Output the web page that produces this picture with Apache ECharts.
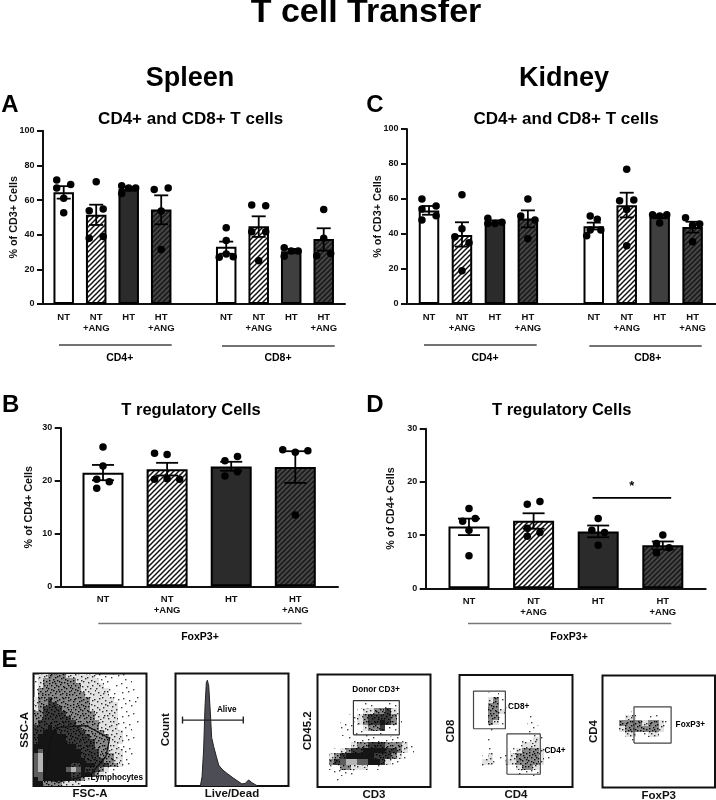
<!DOCTYPE html>
<html><head><meta charset="utf-8">
<style>html,body{margin:0;padding:0;background:#fff}#c{width:716px;height:800px;filter:blur(0.35px)}</style>
<script src="https://cdn.jsdelivr.net/npm/echarts@6/dist/echarts.min.js"></script>
</head><body><div id="c"></div>
<script>
// ---------- bar panels: data ----------
const xLabels4 = ['NT','NT\n+ANG','HT','HT\n+ANG'];
const xLabels8 = ['NT','NT\n+ANG','HT','HT\n+ANG','NT','NT\n+ANG','HT','HT\n+ANG'];
const xPos8 = [0,1,2,3,5,6,7,8];
const xPos4 = [0,1,2,3];

const aMeans = [64.5,51.5,66.5,54.5,33,44.8,30.5,37.5];
const aUp    = [68,57.3,67.6,62.7,36,50.6,31.8,43.7];
const aDown  = [60.8,45.6,65.4,46,29,38.7,29.3,30.8];
const aVals  = [[71.5,67,69,61,52.7],[70.6,53.8,54.8,37.9,39],[68.3,67,67,63.8],[66,67,53.7,31.5],[44,36.7,27,28.8,27.3],[57.1,56.7,41.7,41.7,25],[32.5,30.6,30.6,27.5],[54.6,38,27.9,29.2]];
const aSlots = [[-1,-1,1,0,0],[0,-1,1,-1,1],[-1,0,1,-1],[-1,1,0,0],[0,0,-1,0,1],[-1,1,-1,1,0],[-1,0,1,-1],[0,0,-1,1]];

const cMeans = [53.5,39.5,47,48.8,44.5,56.5,50,44];
const cUp    = [56,46.7,47.8,53.5,46.5,63.6,51,47];
const cDown  = [51,32.8,46.2,43.8,42.6,49.5,49,40.8];
const cVals  = [[60,54.3,56,48,50.5],[62.5,38.5,43,35,19],[49,46,46.7,46],[60,50.3,48,37.3],[50.3,48.4,39,42.3,42.3],[77,59,59.4,54,33.3],[51,50.3,51,46.3],[49.3,45,45.7,35.6]];
const cSlots = [[-1,-1,1,-1,1],[0,-1,0,1,0],[-1,0,1,-1],[0,-1,1,0],[-.5,.5,-1,-.5,1],[0,-1,1,0,0],[-1,0,1,0],[-1,0,1,0]];

const bMeans = [21.5,22.2,22.7,22.6];
const bUp    = [23,23.4,23.6,25.6];
const bDown  = [20.1,21,21.9,19.6];
const bVals  = [[26.4,22.8,20.3,19.8,18.6],[25.2,25,20.3,20.4,20.3],[23.8,24.6,20.9,21.7],[25.9,25.4,25.7,13.5]];
const bSlots = [[0,0,-1,1,-1],[-2,0,-2,0,2],[-1,1,-1,1],[-2,0,2,0]];

const dMeans = [11.6,12.7,10.7,8.1];
const dUp    = [13.1,14.1,11.8,8.8];
const dDown  = [10,11.2,9.6,7.3];
const dVals  = [[15,12.6,13.1,10.9,6.1],[15.8,16.3,11.3,10.5,9.8],[13.1,10.9,10.5,8.1],[10,8.4,7.6,6.7]];
const dSlots = [[0,-1,1,0,0],[-1,1,-1,1,-1],[0,-1,1,0],[0,-1,1,-1]];
const dSigLine = [[1.913,17],[3.13,17]];

// ---------- flow panels: densities read by eye (0 none, 1-3 speckle, 7 dark, 4 black, 5/6 grey core) ----------
const sscDensity = [
 "122333322222211111110000","123333333222221111111000","123333333322222111111000","133333333322222211111100",
 "133333333332222211111100","233733333333222221111110","233773333333222222111110","237777333333222222111100",
 "337777733333322222111110","337777773333322222111100","377777777333332222111110","777477777733332222111000",
 "774447777773333222211100","744444477777333322211100","744444477777733322211000","444444444777733322111100",
 "454444444477773322211000","564444444477773332211100","564444444447777332211000","564444447744477733211000",
 "564444456547773211000000","554444447744732100000000","454444447732100000000000","443333222200000000000000"];
const lymphGate = [[9.7,6.8],[14.7,40.8],[20.5,52],[47,53.6],[67.4,42.3],[64,26],[50,9.8],[22,3.3],[9.7,6.8]];

const liveDeadHist = [[22,0],[23.5,8.3],[24.9,32],[26.1,70],[27.3,92],[28.2,94],[29.4,89],[30.9,64],[32,43],[33.8,35],[36.2,26],[38.2,18.6],[41.2,14.8],[45.6,11.2],[51.5,6.8],[58.8,1.8],[61.8,2.4],[64.7,5.4],[67.6,3],[72.6,0]];
const aliveGate = [[6.2,58.6],[60,58.6]];

const cd3Density = [
 "00000000000000000000","00000000000000000000","00000000000000000000","00000000000000000000",
 "00000000000000000000","00000000111111000000","00000001223372100000","00000112377773100000",
 "00001112377473100000","00001111233711000000","00001111111100000000","00000111111111110000",
 "00000123377733321000","00012377444477321000","00237444447773210000","00375665544721100000",
 "00113322211000000000","00011110000000000000","00010000000000000000","00000000000000000000"];
const donorGate = [[31.8,46.4],[72.4,46.4],[72.4,76.8],[31.8,76.8],[31.8,46.4]];

const cd4Density = [
 "00000000000000000000","00000000000000000000","00000000000000000000","00000110000000000000",
 "00000231000000000000","00000331100000000000","00000332000000000000","00000331000010000000",
 "00000321000010000000","00000100000011000000","00000100000011000000","00000100000112100000",
 "00000100001222100000","00000100012333210000","00001211123333210000","00012211223333210000",
 "00001100012332100000","00000000001111000000","00000000000000000000","00000000000000000000"];
const cd8Gate = [[12.4,52],[40.6,52],[40.6,85.6],[12.4,85.6],[12.4,52]];
const cd4Gate = [[42,11.4],[71.5,11.4],[71.5,47.4],[42,47.4],[42,11.4]];

const foxDensity = [
 "00000000000000000000","00000000000000000000","00000000000000000000","00000000000000000000",
 "00000000000000000000","00000000000000000000","00000100000000000000","00002210110000000000",
 "00033332332100000000","00023333332100000000","00002211221000000000","00000100000000000000",
 "00000000000000000000","00000000000000000000","00000000000000000000","00000000000000000000",
 "00000000000000000000","00000000000000000000","00000000000000000000","00000000000000000000"];
const foxGate = [[28,39.7],[61,39.7],[61,72],[28,72],[28,39.7]];

// ---------- styling helpers ----------
const FONT = '"Liberation Sans", Arial, sans-serif';
function hatch(bg, fg, lw){
  const n=5, k=document.createElement('canvas'); k.width=k.height=n;
  const g=k.getContext('2d'); g.fillStyle=bg; g.fillRect(0,0,n,n);
  g.strokeStyle=fg; g.lineWidth=lw;
  [[-1,n+1,n+1,-1],[-n-1,n+1,1,-1],[n-1,n+1,2*n+1,-1]].forEach(s=>{g.beginPath();g.moveTo(s[0],s[1]);g.lineTo(s[2],s[3]);g.stroke();});
  return {image:k,repeat:'repeat'};
}
const fills = {
  nt:'#ffffff', ntAng:hatch('#ffffff','#111111',1.5),
  ht:'#2b2b2b', ht2:'#3f3f3f', htAng:hatch('#4a4a4a','#1c1c1c',1.7)
};
const fills4=[fills.nt,fills.ntAng,fills.ht,fills.htAng];
const fills8=[fills.nt,fills.ntAng,fills.ht,fills.htAng,fills.nt,fills.ntAng,fills.ht2,fills.htAng];

// speckle texture for the flow densities
const tileDots=[[3,2],[15,5],[8,19],[20,13],[1,11],[11,9],[18,21],[6,15],[22,3],[13,17],
 [5,7],[17,1],[9,4],[2,20],[23,18],[12,22],[19,8],[7,11],[15,14],[1,5],
 [10,14],[21,22],[4,23],[14,1],[16,10],[6,1],[22,9],[0,16],[11,19],[18,16],
 [3,13],[9,8],[13,6],[20,4],[7,21],[16,19],[1,8],[12,12],[5,18],[23,13],
 [8,1],[17,7],[2,3],[14,21],[19,11],[10,17],[21,19],[6,9],[15,2],[0,22],
 [4,10],[18,23],[11,3],[22,15],[8,13],[13,10],[3,17],[16,15],[20,1],[7,5]];
function tile(bg,count,alpha){
  const k=document.createElement('canvas'); k.width=k.height=24;
  const g=k.getContext('2d'); if(bg){g.fillStyle=bg;g.fillRect(0,0,24,24);}
  g.fillStyle='rgba(0,0,0,'+alpha+')';
  tileDots.slice(0,count).forEach(d=>g.fillRect(d[0],d[1],1.4,1.4));
  return {image:k,repeat:'repeat'};
}
const levels=[null,tile(null,14,.75),tile('#e2e2e2',36,.8),tile('#8a8a8a',60,.95),'#151515','#5e5e5e','#b5b5b5',tile('#3c3c3c',60,1)];

function densityCells(rows){
  const out=[]; rows.forEach((r,ri)=>[...r].forEach((c,ci)=>{ if(c!=='0') out.push([ci,ri,+c]); }));
  return out;
}

const grid=[], xAxis=[], yAxis=[], series=[];

function barPanel(o){
  const gi=grid.length;
  grid.push({left:o.left,top:o.top,width:o.width,height:o.height,outerBoundsMode:'none'});
  xAxis.push({gridIndex:gi,type:'value',min:o.xMin,max:o.xMax,splitLine:{show:false},
    axisLine:{onZero:false,lineStyle:{color:'#111',width:2}},axisTick:{show:false},
    axisLabel:{customValues:o.pos,formatter:v=>o.labels[o.pos.indexOf(v)],color:'#111',fontFamily:FONT,fontWeight:'bold',fontSize:9.5,lineHeight:11,margin:8,align:'center',verticalAlign:'top',hideOverlap:false}});
  yAxis.push({gridIndex:gi,type:'value',min:0,max:o.yMax,interval:o.yStep,splitLine:{show:false},
    axisLine:{show:true,onZero:false,lineStyle:{color:'#111',width:2}},axisTick:{show:true,length:6,lineStyle:{color:'#111',width:2}},
    axisLabel:{color:'#111',fontFamily:FONT,fontWeight:'bold',fontSize:9,margin:8.5},
    name:o.yName,nameLocation:'middle',nameGap:o.nameGap,nameMoveOverlap:false,nameTextStyle:{color:'#111',fontFamily:FONT,fontWeight:'bold',fontSize:10.8}});
  series.push({type:'bar',xAxisIndex:gi,yAxisIndex:gi,barWidth:o.barW,z:2,silent:true,
    data:o.means.map((m,i)=>({value:[o.pos[i],m],itemStyle:{color:o.fills[i],borderColor:'#000',borderWidth:2}}))});
  series.push({type:'custom',xAxisIndex:gi,yAxisIndex:gi,z:3,silent:true,clip:false,
    data:o.means.map((m,i)=>[o.pos[i],o.up[i],o.down[i]]),
    renderItem:(p,api)=>{
      const x=api.value(0), a=api.coord([x,api.value(1)]), b=api.coord([x,api.value(2)]), h=o.cap/2;
      const st={stroke:'#000',lineWidth:1.8};
      return {type:'group',children:[
        {type:'line',shape:{x1:a[0],y1:a[1],x2:b[0],y2:b[1]},style:st},
        {type:'line',shape:{x1:a[0]-h,y1:a[1],x2:a[0]+h,y2:a[1]},style:st},
        {type:'line',shape:{x1:b[0]-h,y1:b[1],x2:b[0]+h,y2:b[1]},style:st}]};
    }});
  const pts=[]; o.vals.forEach((g,i)=>g.forEach((v,j)=>pts.push([o.pos[i]+o.slots[i][j]*o.jitter,v])));
  series.push({type:'scatter',xAxisIndex:gi,yAxisIndex:gi,z:4,silent:true,symbol:'circle',symbolSize:7.5,itemStyle:{color:'#000',opacity:1},data:pts});
  return gi;
}

barPanel({left:43,top:130.7,width:302,height:173.3,xMin:-0.637,xMax:8.655,pos:xPos8,labels:xLabels8,yMax:100,yStep:20,yName:'% of CD3+ Cells',nameGap:23.3,barW:20.5,cap:14,jitter:.215,means:aMeans,up:aUp,down:aDown,vals:aVals,slots:aSlots,fills:fills8});
barPanel({left:407,top:129,width:309,height:175,xMin:-0.668,xMax:8.71,pos:xPos8,labels:xLabels8,yMax:100,yStep:20,yName:'% of CD3+ Cells',nameGap:23,barW:20.5,cap:14,jitter:.215,means:cMeans,up:cUp,down:cDown,vals:cVals,slots:cSlots,fills:fills8});
barPanel({left:60.7,top:428,width:277.3,height:158.3,xMin:-0.66,xMax:3.666,pos:xPos4,labels:xLabels4,yMax:30,yStep:10,yName:'% of CD4+ Cells',nameGap:25.7,barW:41,cap:22,jitter:.098,means:bMeans,up:bUp,down:bDown,vals:bVals,slots:bSlots,fills:fills4});
const gD=barPanel({left:425.7,top:428.7,width:280,height:159.6,xMin:-0.67,xMax:3.664,pos:xPos4,labels:xLabels4,yMax:30,yStep:10,yName:'% of CD4+ Cells',nameGap:28.7,barW:41,cap:22,jitter:.098,means:dMeans,up:dUp,down:dDown,vals:dVals,slots:dSlots,fills:fills4});
series.push({type:'line',xAxisIndex:gD,yAxisIndex:gD,z:5,silent:true,symbol:'none',lineStyle:{color:'#000',width:1.6},data:dSigLine,
  markPoint:{symbol:'circle',symbolSize:0,silent:true,label:{show:true,formatter:'*',color:'#000',fontFamily:FONT,fontWeight:'bold',fontSize:13,offset:[0,0]},data:[{coord:[2.52,19.2]}]}});

function flowPanel(o){
  const gi=grid.length;
  grid.push({left:o.left,top:o.top,width:o.width,height:o.height,show:true,borderColor:'#111',borderWidth:2,backgroundColor:'#fff',outerBoundsMode:'none'});
  xAxis.push({gridIndex:gi,type:'value',min:0,max:100,splitLine:{show:false},axisLine:{show:false},axisTick:{show:false},axisLabel:{show:false},
    name:o.xName,nameLocation:'middle',nameGap:o.xGap,nameMoveOverlap:false,nameTextStyle:{color:'#111',fontFamily:FONT,fontWeight:'bold',fontSize:11.5}});
  yAxis.push({gridIndex:gi,type:'value',min:0,max:100,splitLine:{show:false},axisLine:{show:false},axisTick:{show:false},axisLabel:{show:false},
    name:o.yName,nameLocation:'middle',nameGap:o.yGap,nameMoveOverlap:false,nameTextStyle:{color:'#111',fontFamily:FONT,fontWeight:'bold',fontSize:11.5}});
  if(o.density){
    const n=o.density.length, u=100/n;
    series.push({type:'custom',xAxisIndex:gi,yAxisIndex:gi,z:2,silent:true,data:densityCells(o.density),
      renderItem:(p,api)=>{
        const a=api.coord([api.value(0)*u,100-api.value(1)*u]), b=api.coord([(api.value(0)+1)*u,100-(api.value(1)+1)*u]);
        const x0=Math.round(a[0]), y0=Math.round(a[1]);
        return {type:'rect',shape:{x:x0,y:y0,width:Math.round(b[0])-x0,height:Math.round(b[1])-y0},style:{fill:levels[api.value(2)]}};
      }});
  }
  (o.gates||[]).forEach(g=>series.push({type:'line',xAxisIndex:gi,yAxisIndex:gi,z:3,silent:true,symbol:'none',lineStyle:{color:o.gateColor||'#333',width:o.gateWidth||1.2},data:g}));
  return gi;
}

flowPanel({left:33.5,top:673.5,width:113,height:112.5,xName:'FSC-A',yName:'SSC-A',xGap:2,yGap:3,density:sscDensity,gates:[lymphGate],gateColor:'#111'});
const gH=flowPanel({left:175.5,top:673.5,width:113,height:112.5,xName:'Live/Dead',yName:'Count',xGap:2,yGap:4});
series.push({type:'line',xAxisIndex:gH,yAxisIndex:gH,z:2,silent:true,symbol:'none',lineStyle:{color:'#222',width:1},areaStyle:{color:'#4d4d55',opacity:1},data:liveDeadHist});
series.push({type:'line',xAxisIndex:gH,yAxisIndex:gH,z:3,silent:true,symbol:'rect',symbolSize:[1.4,7],showSymbol:true,showAllSymbol:true,itemStyle:{color:'#222'},lineStyle:{color:'#222',width:1.2},data:aliveGate});
flowPanel({left:317.5,top:674.5,width:113,height:112.5,xName:'CD3',yName:'CD45.2',xGap:2,yGap:4,density:cd3Density,gates:[donorGate]});
flowPanel({left:459.5,top:675,width:113,height:112,xName:'CD4',yName:'CD8',xGap:2,yGap:3,density:cd4Density,gates:[cd8Gate,cd4Gate],gateColor:'#444'});
flowPanel({left:602.5,top:675.5,width:112.5,height:112,xName:'FoxP3',yName:'CD4',xGap:2.5,yGap:3,density:foxDensity,gates:[foxGate],gateColor:'#444'});

// ---------- page text and bracket lines ----------
function txt(s,x,y,size){return {type:'text',x:x,y:y,silent:true,z:50,style:{text:s,fill:'#000',font:'bold '+size+'px '+FONT,align:'center',verticalAlign:'middle'}};}
function rule(x1,x2,y,c){return {type:'line',silent:true,shape:{x1:x1,y1:y,x2:x2,y2:y},style:{stroke:c||'#444',lineWidth:1.3}};}
const graphic=[
  txt('T cell Transfer',366,13,34),
  txt('Spleen',190,79,27), txt('Kidney',564,79,27),
  txt('A',10,105,24), txt('C',375,105,24), txt('B',10.7,405,24), txt('D',375,405,24), txt('E',9.5,660,24),
  txt('CD4+ and CD8+ T cells',190.7,119.5,17), txt('CD4+ and CD8+ T cells',566,119.5,17),
  txt('T regulatory Cells',191,410,16.5), txt('T regulatory Cells',561.7,410,16.5),
  rule(59,171.7,345), rule(222,334.7,346), rule(424,536.7,345), rule(589.3,701.7,346),
  rule(98.3,301.7,623.5,'#777'), rule(468,671.3,623.5,'#777'),
  txt('CD4+',119.7,358,10.5), txt('CD8+',278,358,10.5), txt('CD4+',485,358,10.5), txt('CD8+',647.7,358,10.5),
  txt('FoxP3+',200,637,10.5), txt('FoxP3+',569,637,10.5),
  txt('Lymphocytes',116.7,777.5,8.2), txt('Alive',226.7,710,8.2), txt('Donor CD3+',376,690,8.2),
  txt('CD8+',518.7,707,8.2), txt('CD4+',555,751,8.2), txt('FoxP3+',690.3,724.7,8.2)
];

const chart=echarts.init(document.getElementById('c'),null,{renderer:'canvas',width:716,height:800});
chart.setOption({animation:false,backgroundColor:'#fff',grid,xAxis,yAxis,series,graphic});
</script></body></html>
